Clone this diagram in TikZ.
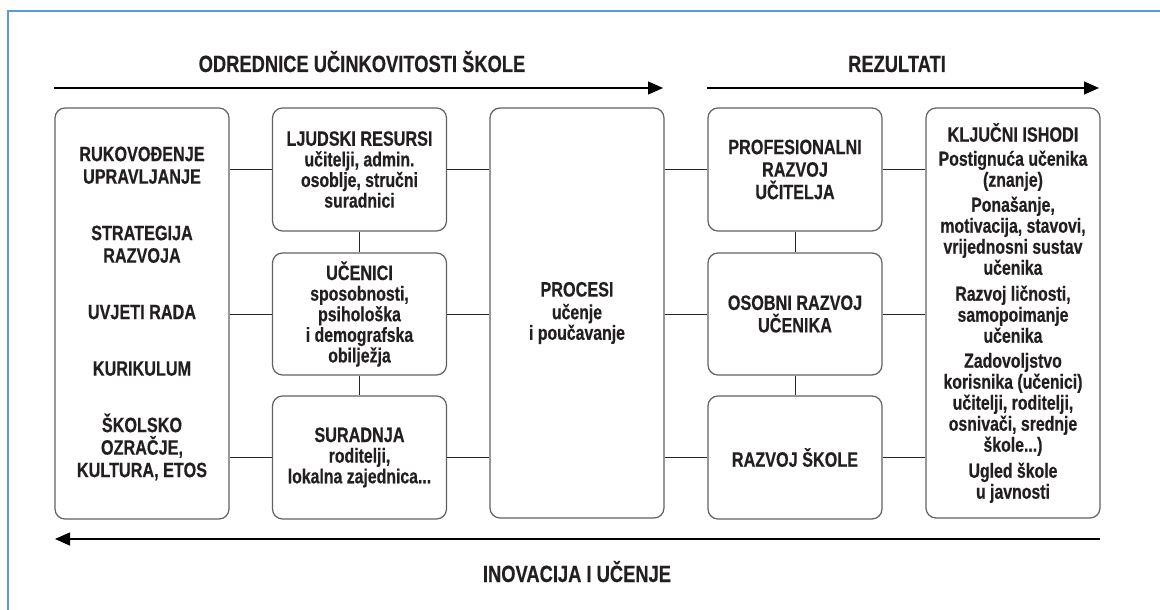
\documentclass[tikz,border=0pt]{standalone}
\usepackage{fontspec}
\setmainfont{Liberation Sans}[FakeStretch=0.78, FakeBold=0.4]
\usetikzlibrary{arrows.meta,calc}
\definecolor{frameblue}{RGB}{91,155,213}
\definecolor{ink}{RGB}{35,31,32}
\newcommand\hdfont{\fontsize{20.8}{22.5}\selectfont\bfseries}
\newcommand\bdfont{\fontsize{20.3}{20.6}\selectfont\bfseries}
\newcommand\kifont{\fontsize{20.3}{21}\selectfont\bfseries}
\begin{document}
\begin{tikzpicture}[x=1pt,y=-1pt,
  box/.style={draw=black!62, line width=1.2pt, rounded corners=10pt, align=center,
    text=ink, inner sep=0pt, minimum width=174pt, font=\bdfont},
  conn/.style={draw=black!85, line width=0.9pt},
  flow/.style={draw=black, line width=1.3pt, -{Triangle[length=15pt,width=13pt]}},
  ttl/.style={text=ink, font=\fontsize{23.5}{26}\selectfont\bfseries, anchor=base, inner sep=0pt}]
\useasboundingbox (0,0) rectangle (1160,610);
\fill[white] (0,0) rectangle (1160,610);
\draw[frameblue, line width=1.6pt] (8,612) -- (8,11) -- (1162,11);

% titles
\node[ttl] (t1) at (362,72) {ODREDNICE UČINKOVITOSTI ŠKOLE};
\node[ttl] (t2) at (897,72) {REZULTATI};
\node[ttl] (t3) at (577,582) {INOVACIJA I UČENJE};

% flow arrows
\coordinate (a1s) at (54,88);  \coordinate (a1e) at (663,88);
\coordinate (a2s) at (707,88); \coordinate (a2e) at (1099,88);
\coordinate (a3s) at (1100,539); \coordinate (a3e) at (55,539);
\draw[flow] (a1s) -- (a1e);
\draw[flow] (a2s) -- (a2e);
\draw[flow] (a3s) -- (a3e);

% left column
\node[box, minimum height=411pt, font=\hdfont] (lb) at (142,313.5)
  {RUKOVOĐENJE\\UPRAVLJANJE\\[34pt]
   STRATEGIJA\\RAZVOJA\\[34pt]
   UVJETI RADA\\[34pt]
   KURIKULUM\\[34pt]
   ŠKOLSKO\\OZRAČJE,\\KULTURA, ETOS};

% second column
\node[box, minimum height=123pt] (lj) at (359.5,169.5)
  {{\hdfont LJUDSKI RESURSI}\\učitelji, admin.\\osoblje, stručni\\suradnici};
\node[box, minimum height=122pt] (uc) at (359.5,314)
  {{\hdfont UČENICI}\\sposobnosti,\\psihološka\\i demografska\\obilježja};
\node[box, minimum height=123pt] (su) at (359.5,457.5)
  {{\hdfont SURADNJA}\\roditelji,\\lokalna zajednica...};

% processes
\node[box, minimum height=410pt] (pr) at (577,313)
  {{\hdfont PROCESI}\\[2pt]učenje\\i poučavanje};

% fourth column
\node[box, minimum height=123pt, font=\hdfont] (pu) at (795,169.5)
  {PROFESIONALNI\\RAZVOJ\\UČITELJA};
\node[box, minimum height=122pt, font=\hdfont] (ou) at (795,314)
  {OSOBNI RAZVOJ\\UČENIKA};
\node[box, minimum height=123pt, font=\hdfont] (rs) at (795,457.5)
  {RAZVOJ ŠKOLE};

% key outcomes
\node[box, minimum height=410pt, font=\kifont] (ki) at (1013,313)
  {{\hdfont KLJUČNI ISHODI}\\[3pt]
   Postignuća učenika\\(znanje)\\[4pt]
   Ponašanje,\\motivacija, stavovi,\\vrijednosni sustav\\učenika\\[5pt]
   Razvoj ličnosti,\\samopoimanje\\učenika\\[4pt]
   Zadovoljstvo\\korisnika (učenici)\\učitelji, roditelji,\\osnivači, srednje\\škole...)\\[5pt]
   Ugled škole\\u javnosti};

% horizontal connectors
\foreach \n in {lj,uc,su} {
  \draw[conn] (\n.west) -- (\n.west -| lb.east);
  \draw[conn] (\n.east) -- (\n.east -| pr.west);
}
\foreach \n in {pu,ou,rs} {
  \draw[conn] (\n.west) -- (\n.west -| pr.east);
  \draw[conn] (\n.east) -- (\n.east -| ki.west);
}
% vertical connectors
\draw[conn] (lj.south) -- (uc.north);
\draw[conn] (uc.south) -- (su.north);
\draw[conn] (pu.south) -- (ou.north);
\draw[conn] (ou.south) -- (rs.north);
\end{tikzpicture}
\end{document}
